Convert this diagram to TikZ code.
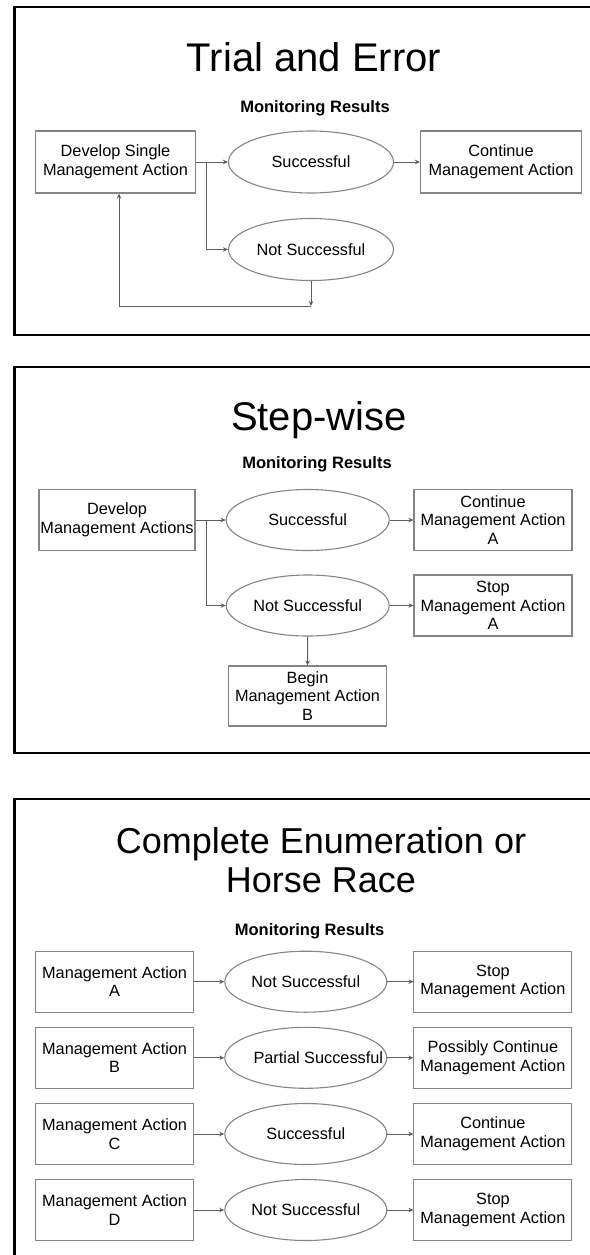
\documentclass[tikz,border=0pt]{standalone}
\usepackage{fontspec}
\setmainfont{Liberation Sans}
\usetikzlibrary{shapes.geometric,arrows.meta}

\definecolor{trait}{HTML}{858585}
\definecolor{fil}{HTML}{5E5E5E}
\newcommand\corps{\fontsize{16.3}{18.5}\selectfont}

\tikzset{
  boite/.style={draw=trait, line width=1.1pt, minimum width=158pt, minimum height=61pt,
    inner sep=0pt, align=center, font=\corps},
  resultat/.style={ellipse, draw=trait, line width=1.1pt, minimum width=163pt,
    minimum height=61pt, inner xsep=-20pt, font=\corps},
  fleche/.style={draw=fil, line width=0.9pt, -{Stealth[length=5pt,width=4.5pt]}},
  titre/.style={anchor=base, font=\fontsize{40}{44}\selectfont},
  soustitre/.style={anchor=base, font=\bfseries\fontsize{16.5}{18}\selectfont},
  cadre/.style={line width=2.2pt}
}

\begin{document}
\begin{tikzpicture}[x=1pt,y=-1pt]
    \useasboundingbox (0,0) rectangle (589,1255);

    % Cadres des trois planches (le bord droit est coupé)
    \draw[cadre] (592,6.7) -- (14.5,6.7) -- (14.5,335) -- (592,335);
    \draw[cadre] (592,366.7) -- (14.5,366.7) -- (14.5,752.7) -- (592,752.7);
    \draw[cadre] (592,799.3) -- (14.5,799.3) -- (14.5,1258);

    % Planche 1 : essai et erreur
    \node[titre] (titre1) at (314,71.7) {Trial and Error};
    \node[soustitre] (suivi1) at (315,112) {Monitoring Results};
    \node[boite, minimum width=160pt, minimum height=62pt] (dev1) at (115.5,162) {Develop Single\\Management Action};
    \node[resultat, minimum width=165pt, minimum height=62pt] (succ1) at (311,162) {Successful};
    \node[boite, minimum width=161pt, minimum height=62pt] (cont1) at (501,162) {Continue\\Management Action};
    \node[resultat, minimum width=165pt, minimum height=62pt] (nons1) at (311,249.5) {Not Successful};
    \coordinate (emb1) at (206,162);
    \coordinate (ret1) at (311,306);
    \draw[fleche] (dev1) -- (succ1);
    \draw[fleche] (emb1) |- (nons1);
    \draw[fleche] (succ1) -- (cont1);
    % boucle de retour vers l'action
    \draw[fleche] (nons1.south) -- (ret1);
    \draw[fleche] (ret1) -| ([xshift=3.5pt]dev1.south);

    % Planche 2 : pas à pas
    \node[titre] (titre2) at (319,430) {Step-wise};
    \node[soustitre] (suivi2) at (317,468.5) {Monitoring Results};
    \node[boite, minimum width=156pt] (dev2) at (117,520) {Develop\\Management Actions};
    \node[resultat] (succ2) at (307.7,520) {Successful};
    \node[boite] (cont2) at (493,520) {Continue\\Management Action\\A};
    \node[resultat] (nons2) at (307.7,605.5) {Not Successful};
    \node[boite] (stop2) at (493,605.5) {Stop\\Management Action\\A};
    \node[boite, minimum height=60pt] (deb2) at (307.5,696) {Begin\\Management Action\\B};
    \coordinate (emb2) at (206,520);
    \draw[fleche] (dev2) -- (succ2);
    \draw[fleche] (emb2) |- (nons2);
    \draw[fleche] (succ2) -- (cont2);
    \draw[fleche] (nons2) -- (stop2);
    \draw[fleche] (nons2) -- (deb2);

    % Planche 3 : énumération complète
    \node[titre, anchor=center, align=center, font=\fontsize{36}{39}\selectfont] (titre3) at (321,860) {Complete Enumeration or\\Horse Race};
    \node[soustitre] (suivi3) at (309.6,935) {Monitoring Results};
    \foreach \y/\lettre/\res/\suite in {981.7/A/Not Successful/Stop\\Management Action,
        1057.8/B/\hspace*{25pt}Partial Successful/Possibly Continue\\Management Action,
        1134/C/Successful/Continue\\Management Action,
        1210/D/Not Successful/Stop\\Management Action}{
        \node[boite] (ma\lettre) at (114.6,\y) {Management Action\\\lettre};
        \node[resultat, minimum width=162pt] (res\lettre) at (305.8,\y) {\res};
        \node[boite] (suite\lettre) at (492.9,\y) {\suite};
        \draw[fleche] (ma\lettre) -- (res\lettre);
        \draw[fleche] (res\lettre) -- (suite\lettre);
    }
\end{tikzpicture}
\end{document}
